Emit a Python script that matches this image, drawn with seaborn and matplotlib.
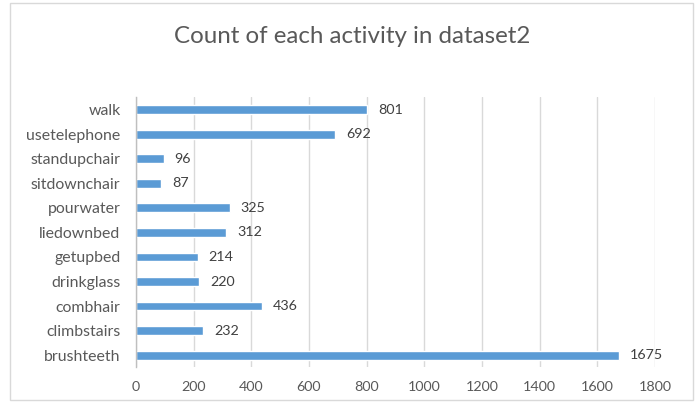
import matplotlib
matplotlib.use("Agg")
import matplotlib.pyplot as plt
import seaborn as sns
import pandas as pd
from matplotlib.patches import Rectangle

activities = ["walk", "usetelephone", "standupchair", "sitdownchair", "pourwater",
              "liedownbed", "getupbed", "drinkglass", "combhair", "climbstairs", "brushteeth"]
counts = [801, 692, 96, 87, 325, 312, 214, 220, 436, 232, 1675]
xticks = [0, 200, 400, 600, 800, 1000, 1200, 1400, 1600, 1800]
title = "Count of each activity in dataset2"

df = pd.DataFrame({"activity": activities, "count": counts})

sns.set_theme(style="white")
plt.rcParams['font.family'] = ['Lato', 'DejaVu Sans']
grey = "#595959"

fig = plt.figure(figsize=(7, 4.11), dpi=100)
renderer = fig.canvas.get_renderer()


def fit_size(text, target_px, base=10.0):
    t = fig.text(0, 0, text, fontsize=base)
    w = t.get_window_extent(renderer=renderer).width
    t.remove()
    return base * target_px / w


title_fs = fit_size(title, 357)
label_fs = fit_size("usetelephone", 95)
num_fs = fit_size("1800", 33)

ax = fig.add_axes([0.194, 0.106, 0.742, 0.657])

sns.barplot(data=df, y="activity", x="count", color="#5B9BD5", width=0.36,
            saturation=1, ax=ax, orient="h")

ax.set_xlim(0, 1800)
ax.set_xticks(xticks)
ax.set_xticklabels([str(t) for t in xticks], color=grey, fontsize=num_fs)
ax.tick_params(axis="y", labelsize=label_fs, labelcolor=grey, length=0, pad=11)
ax.tick_params(axis="x", length=0, pad=10)
ax.set_xlabel("")
ax.set_ylabel("")
ax.grid(axis="x", color="#D9D9D9", linewidth=1)
ax.set_axisbelow(True)
for s in ["top", "right", "bottom"]:
    ax.spines[s].set_visible(False)
ax.spines["left"].set_color("#BFBFBF")
ax.spines["left"].set_linewidth(1)

for c in ax.containers:
    ax.bar_label(c, labels=[str(v) for v in counts], padding=8, color="#404040", fontsize=num_fs)

fig.text(0.503, 0.912, title, ha="center", va="center", fontsize=title_fs, color=grey)

fig.patches.append(Rectangle((10/700, 1-400/411), 683/700, 397/411, transform=fig.transFigure,
                             fill=False, edgecolor="#D9D9D9", linewidth=1))

fig.savefig("out.png", dpi=100)
